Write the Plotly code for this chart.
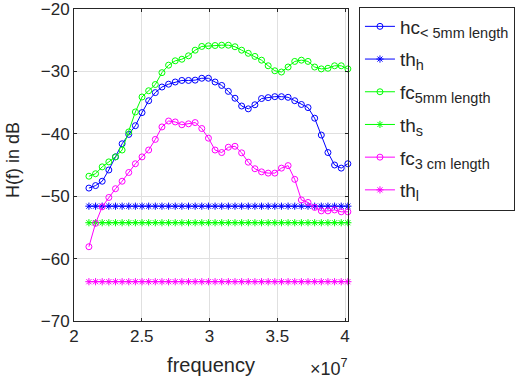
import plotly.graph_objects as go

# frequency in units of 1e7 Hz
freq = [2.110, 2.159, 2.208, 2.257, 2.306, 2.355, 2.404, 2.453, 2.502, 2.551,
        2.600, 2.649, 2.698, 2.747, 2.796, 2.845, 2.894, 2.943, 2.992, 3.041,
        3.090, 3.139, 3.188, 3.237, 3.286, 3.335, 3.384, 3.433, 3.482, 3.531,
        3.580, 3.629, 3.678, 3.727, 3.776, 3.825, 3.874, 3.923, 3.972, 4.021]

hc_5mm = [-48.7, -48.3, -47.6, -45.8, -43.7, -41.6, -40.1, -38.7, -36.6, -34.7,
          -33.4, -32.5, -32.05, -31.7, -31.45, -31.45, -31.4, -31.1, -31.1, -31.7,
          -32.25, -33.2, -34.3, -35.55, -36.0, -35.35, -34.35, -34.2, -34.05, -34.05,
          -34.15, -34.7, -35.3, -35.8, -37.5, -40.2, -43.0, -45.0, -45.5, -44.8]

fc_5mm = [-46.8, -46.4, -45.3, -44.5, -43.7, -42.6, -39.7, -36.5, -34.1, -33.1,
          -32.1, -30.2, -29.0, -28.3, -28.05, -27.5, -26.6, -26.0, -25.9, -25.85,
          -25.8, -25.8, -26.05, -26.6, -27.1, -27.6, -28.2, -29.1, -29.9, -30.1,
          -29.3, -28.4, -28.2, -28.4, -29.3, -29.6, -29.5, -29.1, -29.1, -29.6]

fc_3cm = [-58.1, -54.35, -51.7, -50.2, -48.8, -47.6, -46.2, -44.8, -43.7, -42.6,
          -40.9, -38.9, -37.95, -38.1, -38.55, -38.4, -38.2, -39.15, -40.7, -42.6,
          -43.0, -42.15, -42.0, -43.05, -44.55, -45.6, -46.1, -46.3, -46.3, -45.5,
          -45.1, -47.3, -50.6, -51.0, -51.8, -52.35, -52.35, -52.2, -52.5, -52.5]

th_h_level = -51.6
th_s_level = -54.25
th_l_level = -63.7
th_h = [th_h_level] * len(freq)
th_s = [th_s_level] * len(freq)
th_l = [th_l_level] * len(freq)

x_ticks = [2, 2.5, 3, 3.5, 4]
x_ticktext = ["2", "2.5", "3", "3.5", "4"]
y_ticks = [-70, -60, -50, -40, -30, -20]

BLUE = "rgb(0,0,255)"
GREEN = "rgb(0,255,0)"
MAG = "rgb(255,0,255)"
FONT = "Liberation Sans, Helvetica, Arial, sans-serif"
TXT = "#262626"


def sub(s):
    return '<sub><span style="font-size:14.5px">' + s + '</span></sub>'


series = [
    ("hc" + sub("&lt; 5mm length"), hc_5mm, BLUE, "circle-open"),
    ("th" + sub("h"), th_h, BLUE, "asterisk-open"),
    ("fc" + sub("5mm length"), fc_5mm, GREEN, "circle-open"),
    ("th" + sub("s"), th_s, GREEN, "asterisk-open"),
    ("fc" + sub("3 cm length"), fc_3cm, MAG, "circle-open"),
    ("th" + sub("l"), th_l, MAG, "asterisk-open"),
]

fig = go.Figure()
for i, (name, ys, col, sym) in enumerate(series):
    fig.add_trace(go.Scatter(
        x=freq, y=ys, name=name, mode="lines+markers",
        line=dict(color=col, width=1),
        marker=dict(symbol=sym, size=6, color=col, line=dict(color=col, width=1)),
        legendgroup="g%d" % i,
        cliponaxis=False,
    ))

axis_common = dict(
    showline=True, linecolor=TXT, linewidth=1, mirror="ticks",
    ticks="inside", ticklen=3, tickcolor=TXT,
    showgrid=True, gridcolor="#e0e0e0", gridwidth=1,
    zeroline=False, automargin=False, ticklabeloverflow="allow",
    tickfont=dict(family=FONT, size=17, color=TXT),
)

fig.update_xaxes(range=[2, 4.022], tickvals=x_ticks, ticktext=x_ticktext,
                 title=dict(text="frequency", font=dict(family=FONT, size=20, color=TXT), standoff=12),
                 **axis_common)
fig.update_yaxes(range=[-70, -20], tickvals=y_ticks, **axis_common)

# y-axis title placed as a rotated annotation
fig.add_annotation(x=-0.22, y=0.515, xref="paper", yref="paper", xanchor="center", yanchor="middle",
                   showarrow=False, textangle=-90,
                   text="H(f) in dB", font=dict(family=FONT, size=18, color=TXT))

fig.add_annotation(x=1.0, y=0, xref="paper", yref="paper", xanchor="right", yanchor="top",
                   yshift=-33, xshift=2, showarrow=False,
                   text="×10<sup>7</sup>", font=dict(family=FONT, size=18, color=TXT))

fig.update_layout(
    width=516, height=386,
    margin=dict(l=74, r=168, t=9, b=65, autoexpand=False),
    plot_bgcolor="white", paper_bgcolor="white",
    showlegend=True,
    legend=dict(x=1.04, y=1.008, xanchor="left", yanchor="top",
                bgcolor="white", bordercolor=TXT, borderwidth=1,
                font=dict(family=FONT, size=19, color=TXT),
                traceorder="grouped", tracegroupgap=5, itemwidth=30,
                maxheight=400),
)

fig.write_html("out.html", config={"displayModeBar": False},
               post_script="document.body.style.margin='0';document.body.style.overflow='hidden';")
